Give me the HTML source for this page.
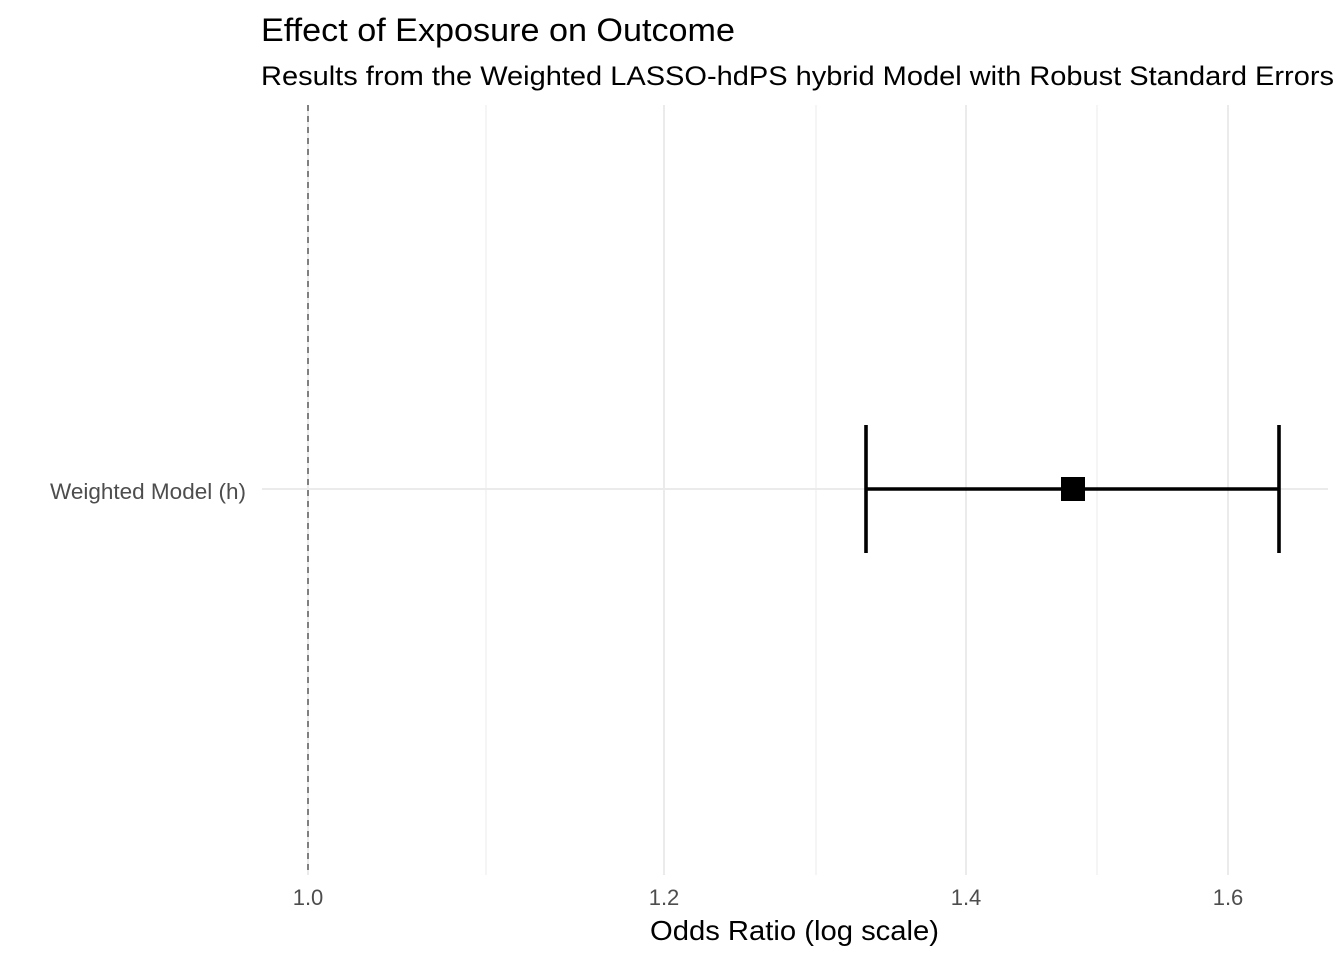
<!DOCTYPE html>
<html><head><meta charset="utf-8"><style>
html,body{margin:0;padding:0;background:#fff;}
svg{display:block;font-family:"Liberation Sans",Arial,sans-serif;}
</style></head><body>
<svg width="1344" height="960" xmlns="http://www.w3.org/2000/svg">
<rect width="1344" height="960" fill="#fff"/>
<g stroke="#ebebeb" stroke-width="1">
<line x1="486" y1="105" x2="486" y2="875"/>
<line x1="816" y1="105" x2="816" y2="875"/>
<line x1="1097" y1="105" x2="1097" y2="875"/>
</g>
<g stroke="#ebebeb" stroke-width="2">
<line x1="664" y1="105" x2="664" y2="875"/>
<line x1="966" y1="105" x2="966" y2="875"/>
<line x1="1228" y1="105" x2="1228" y2="875"/>
<line x1="308" y1="105" x2="308" y2="875"/>
<line x1="262" y1="489" x2="1328" y2="489"/>
</g>
<line x1="308" y1="105" x2="308" y2="875" stroke="#666" stroke-width="1.6" stroke-dasharray="6,5"/>
<g stroke="#000" stroke-width="3.6">
<line x1="866" y1="489" x2="1279" y2="489"/>
<line x1="866" y1="425" x2="866" y2="553"/>
<line x1="1279" y1="425" x2="1279" y2="553"/>
</g>
<rect x="1061" y="477" width="24" height="24" fill="#000"/>
<text x="261" y="41" font-size="32" fill="#000" textLength="474" lengthAdjust="spacingAndGlyphs">Effect of Exposure on Outcome</text>
<text x="261" y="85" font-size="27" fill="#000" textLength="1073" lengthAdjust="spacingAndGlyphs">Results from the Weighted LASSO-hdPS hybrid Model with Robust Standard Errors</text>
<text x="50" y="499" font-size="22" fill="#4d4d4d" textLength="196" lengthAdjust="spacingAndGlyphs">Weighted Model (h)</text>
<g font-size="22" fill="#4d4d4d" text-anchor="middle">
<text x="308" y="905">1.0</text>
<text x="664" y="905">1.2</text>
<text x="966" y="905">1.4</text>
<text x="1228" y="905">1.6</text>
</g>
<text x="650" y="940" font-size="28" fill="#000" textLength="289" lengthAdjust="spacingAndGlyphs">Odds Ratio (log scale)</text>
</svg>
</body></html>
